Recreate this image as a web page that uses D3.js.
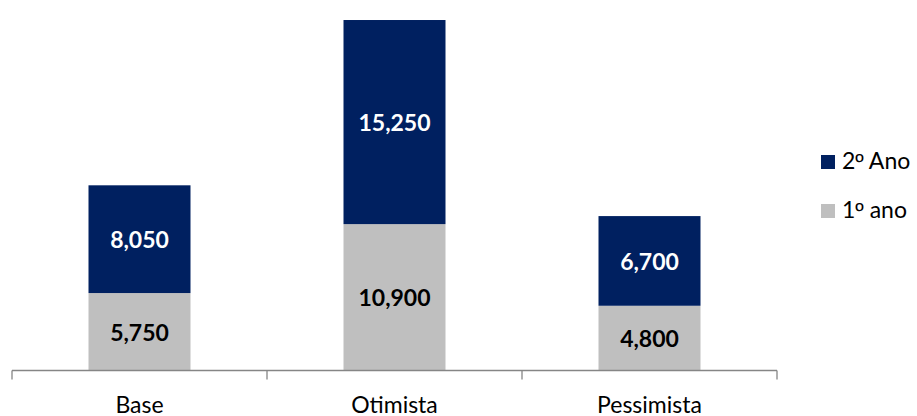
<!DOCTYPE html>
<html>
<head>
<meta charset="utf-8">
<script src="https://cdn.jsdelivr.net/npm/d3@7"></script>
<style>
  html, body { margin: 0; padding: 0; background: #fff; }
  svg { display: block; }
  text { font-family: Lato, "Open Sans", sans-serif; }
  .ord { font-family: "Liberation Sans", "DejaVu Sans", sans-serif; }
</style>
</head>
<body>
<svg id="chart" width="917" height="416"></svg>
<script>
// Scenario totals split by year
const categories = ["Base", "Otimista", "Pessimista"];
const ano1 = [5750, 10900, 4800];
const ano2 = [8050, 15250, 6700];
const seriesNames = ["1º ano", "2º Ano"];
const seriesColors = ["#BFBFBF", "#002060"];
const labelColors = ["#000000", "#FFFFFF"];

const svg = d3.select("#chart");

const x = d3.scaleBand()
  .domain(categories)
  .range([12, 777])
  .paddingInner(0.6)
  .paddingOuter(0.3);

const y = d3.scaleLinear()
  .domain([0, 26450])
  .range([370, 16]);

const rows = categories.map((c, i) => ({ cat: c, a1: ano1[i], a2: ano2[i] }));
const stacked = d3.stack().keys(["a1", "a2"])(rows);

const fmt = d3.format(",");

stacked.forEach((layer, li) => {
  const g = svg.append("g");
  g.selectAll("rect")
    .data(layer)
    .join("rect")
    .attr("x", d => x(d.data.cat))
    .attr("width", x.bandwidth())
    .attr("y", d => y(d[1]))
    .attr("height", d => y(d[0]) - y(d[1]))
    .attr("fill", seriesColors[li]);

  g.selectAll("text")
    .data(layer)
    .join("text")
    .attr("x", d => x(d.data.cat) + x.bandwidth() / 2)
    .attr("y", d => (y(d[0]) + y(d[1])) / 2)
    .attr("text-anchor", "middle")
    .attr("dominant-baseline", "central")
    .attr("font-size", 23)
    .attr("font-weight", "bold")
    .attr("fill", labelColors[li])
    .text(d => fmt(d[1] - d[0]));
});

// Category axis with ticks between bands
const axisG = svg.append("g").attr("transform", "translate(0,370.5)");
axisG.append("line")
  .attr("x1", x.range()[0]).attr("x2", x.range()[1])
  .attr("stroke", "#868686").attr("stroke-width", 1.3);
const bounds = d3.range(categories.length + 1).map(i => x.range()[0] + i * x.step());
axisG.selectAll("line.tick")
  .data(bounds)
  .join("line")
  .attr("class", "tick")
  .attr("x1", d => d).attr("x2", d => d)
  .attr("y1", 0).attr("y2", 9)
  .attr("stroke", "#868686").attr("stroke-width", 1.3);
axisG.selectAll("text")
  .data(categories)
  .join("text")
  .attr("x", d => x(d) + x.bandwidth() / 2)
  .attr("y", 42)
  .attr("text-anchor", "middle")
  .attr("font-size", 23)
  .attr("fill", "#000")
  .text(d => d);

// Legend
const legendItems = [
  { name: seriesNames[1], color: seriesColors[1] },
  { name: seriesNames[0], color: seriesColors[0] }
];
const lg = svg.append("g").attr("transform", "translate(821,155)");
const li = lg.selectAll("g").data(legendItems).join("g")
  .attr("transform", (d, i) => `translate(0,${i * 49})`);
li.append("rect").attr("width", 14).attr("height", 14).attr("fill", d => d.color);
const lt = li.append("text")
  .attr("x", 21).attr("y", 14)
  .attr("font-size", 23)
  .attr("fill", "#000");
lt.each(function (d) {
  const t = d3.select(this);
  const parts = d.name.split("º");
  t.append("tspan").text(parts[0]);
  t.append("tspan").attr("class", "ord").text("º");
  t.append("tspan").text(parts[1]);
});
</script>
</body>
</html>
